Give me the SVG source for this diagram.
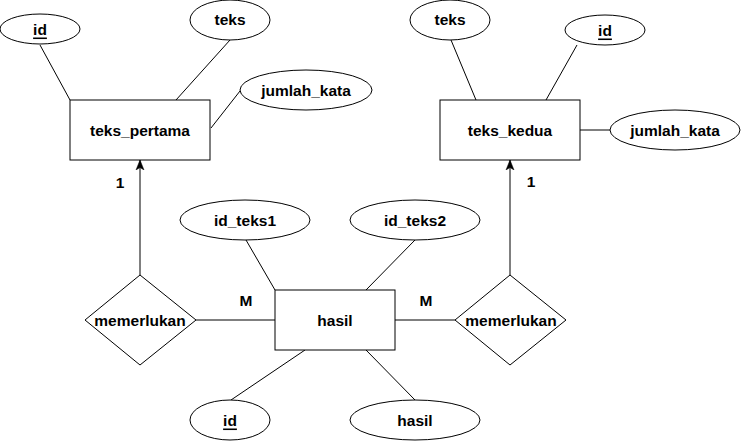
<svg xmlns="http://www.w3.org/2000/svg" width="741" height="442" viewBox="0 0 741 442">
<style>
.s{fill:#fff;stroke:#000;stroke-width:1}
.l{stroke:#000;stroke-width:1;fill:none}
text{font-family:"Liberation Sans",Arial,sans-serif;font-weight:bold;font-size:15.5px;fill:#000;text-anchor:middle;dominant-baseline:central}
.u{text-decoration:underline}
</style>
<defs>
<marker id="arr" viewBox="0 0 10 10" refX="10" refY="5" markerWidth="10" markerHeight="10" markerUnits="userSpaceOnUse" orient="auto">
<path d="M0,1 L10,5 L0,9 L2.5,5 Z" fill="#000" stroke="#000" stroke-width="0.5"/>
</marker>
</defs>
<rect width="741" height="442" fill="#fff"/>
<g id="connectors">
<line class="l" x1="40" y1="45" x2="70" y2="100"/>
<line class="l" x1="230" y1="40" x2="176" y2="100"/>
<line class="l" x1="240" y1="91" x2="211" y2="128"/>
<line class="l" x1="451" y1="40" x2="476" y2="100"/>
<line class="l" x1="577" y1="45" x2="546" y2="100"/>
<line class="l" x1="580" y1="130" x2="610" y2="130"/>
<line class="l" x1="140" y1="275" x2="140" y2="160" marker-end="url(#arr)"/>
<line class="l" x1="510" y1="275" x2="510" y2="160" marker-end="url(#arr)"/>
<line class="l" x1="196" y1="320" x2="275" y2="320"/>
<line class="l" x1="395" y1="320" x2="455" y2="320"/>
<line class="l" x1="246" y1="240" x2="275" y2="290"/>
<line class="l" x1="415" y1="240" x2="366" y2="290"/>
<line class="l" x1="305" y1="350" x2="231" y2="400"/>
<line class="l" x1="366" y1="350" x2="415" y2="400"/>
<text x="120" y="182">1</text>
<text x="531" y="181">1</text>
<text x="246" y="300">M</text>
<text x="426" y="300">M</text>
</g>
<g id="teks_pertama"><rect class="s" x="70" y="100" width="140" height="60"/><text x="140" y="130">teks_pertama</text></g>
<g id="attr_id1"><ellipse class="s" cx="40" cy="29" rx="40" ry="15"/><text class="u" x="40" y="29">id</text></g>
<g id="attr_teks1"><ellipse class="s" cx="230" cy="20" rx="40" ry="20"/><text x="230" y="19">teks</text></g>
<g id="attr_jumlah1"><ellipse class="s" cx="306" cy="90" rx="66" ry="20"/><text x="306" y="90">jumlah_kata</text></g>
<g id="teks_kedua"><rect class="s" x="440" y="100" width="140" height="60"/><text x="510" y="130">teks_kedua</text></g>
<g id="attr_teks2"><ellipse class="s" cx="450" cy="20" rx="40" ry="20"/><text x="450" y="19">teks</text></g>
<g id="attr_id2"><ellipse class="s" cx="605" cy="30" rx="40" ry="15"/><text class="u" x="605" y="30">id</text></g>
<g id="attr_jumlah2"><ellipse class="s" cx="675" cy="130" rx="65" ry="20"/><text x="675" y="130">jumlah_kata</text></g>
<g id="rel_left"><polygon class="s" points="140,275 196,320 140,365 85,320"/><text x="140" y="320">memerlukan</text></g>
<g id="rel_right"><polygon class="s" points="510,275 566,320 510,365 455,320"/><text x="511" y="320">memerlukan</text></g>
<g id="hasil"><rect class="s" x="275" y="290" width="120" height="60"/><text x="335" y="320">hasil</text></g>
<g id="attr_idteks1"><ellipse class="s" cx="245" cy="220" rx="65" ry="20"/><text x="245" y="220">id_teks1</text></g>
<g id="attr_idteks2"><ellipse class="s" cx="415" cy="220" rx="65" ry="20"/><text x="415" y="220">id_teks2</text></g>
<g id="attr_id3"><ellipse class="s" cx="230" cy="420" rx="40" ry="20"/><text class="u" x="230" y="420">id</text></g>
<g id="attr_hasil"><ellipse class="s" cx="415" cy="420" rx="65" ry="20"/><text x="415" y="420">hasil</text></g>
</svg>
